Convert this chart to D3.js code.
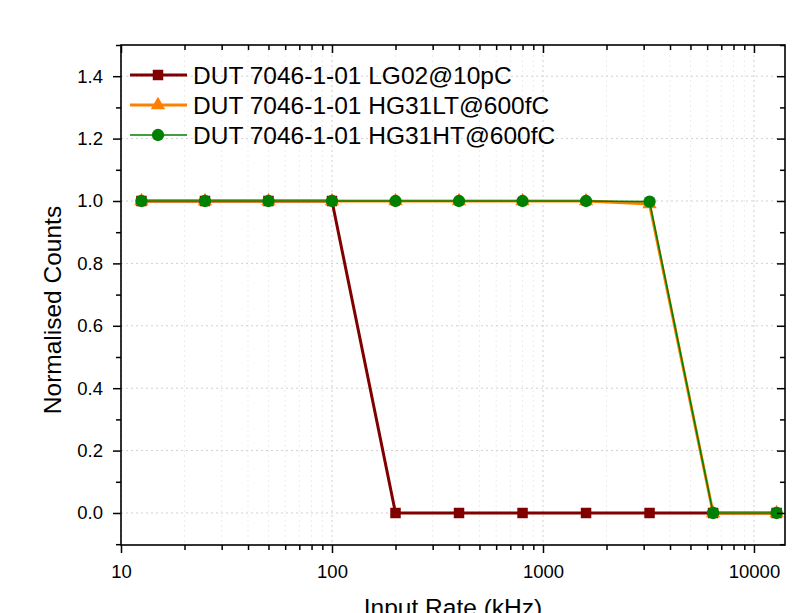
<!DOCTYPE html>
<html><head><meta charset="utf-8">
<script src="https://cdn.jsdelivr.net/npm/d3@7"></script>
<style>body{margin:0;background:#fff}svg{display:block}text{font-family:"Liberation Sans",Arial,sans-serif}</style>
</head><body>
<svg id="c" width="795" height="613"></svg>
<script>
const rates = [12.5, 25, 50, 100, 200, 400, 800, 1600, 3200, 6400, 12800];
const lg02 = [1, 1, 1, 1, 0, 0, 0, 0, 0, 0, 0];
const hg31lt = [1, 1, 1, 1, 1, 1, 1, 1, 0.99, 0, 0];
const hg31ht = [1, 1, 1, 1, 1, 1, 1, 1, 0.998, 0, 0];
const seriesNames = ["DUT 7046-1-01 LG02@10pC", "DUT 7046-1-01 HG31LT@600fC", "DUT 7046-1-01 HG31HT@600fC"];
const xTickLabels = ["10", "100", "1000", "10000"];
const yTickLabels = ["0.0", "0.2", "0.4", "0.6", "0.8", "1.0", "1.2", "1.4"];

const svg = d3.select("#c");
const L = 121, R = 785, T = 45, B = 545;
const x = d3.scaleLog().domain([10, 14030]).range([L, R]);
const y = d3.scaleLinear().domain([-0.1026, 1.5]).range([B, T]);

const xMajor = xTickLabels.map(Number);
const xMinor = [];
for (let d = 10; d <= 10000; d *= 10) for (let k = 2; k <= 9; k++) { const v = d * k; if (v <= 14030) xMinor.push(v); }
const yMajor = yTickLabels.map(Number);
const yMinor = d3.range(-0.1, 1.55, 0.2).map(v => +v.toFixed(1));

// grid
const g = svg.append("g");
g.selectAll(".gx").data(xMajor.concat(xMinor)).join("line")
  .attr("x1", d => x(d)).attr("x2", d => x(d)).attr("y1", T).attr("y2", B)
  .attr("stroke", d => xMajor.includes(d) ? "#d0d0d0" : "#ededed").attr("stroke-width", 1).attr("stroke-dasharray", "2,3");
g.selectAll(".gy").data(yMajor).join("line")
  .attr("x1", L).attr("x2", R).attr("y1", d => y(d)).attr("y2", d => y(d))
  .attr("stroke", "#d0d0d0").attr("stroke-width", 1).attr("stroke-dasharray", "2,3");

// series
const series = [
  {vals: lg02, color: "#800000", width: 3, sym: d3.symbolSquare, size: 110},
  {vals: hg31lt, color: "#ff8000", width: 3, sym: d3.symbolTriangle, size: 90},
  {vals: hg31ht, color: "#008000", width: 1.6, sym: d3.symbolCircle, size: 120}
];
const line = d3.line().x(d => x(d[0])).y(d => y(d[1]));
series.forEach(s => {
  const pts = rates.map((r, i) => [r, s.vals[i]]);
  svg.append("path").datum(pts).attr("d", line).attr("fill", "none")
    .attr("stroke", s.color).attr("stroke-width", s.width).attr("stroke-linejoin", "round");
  svg.append("g").selectAll("path").data(pts).join("path")
    .attr("transform", d => `translate(${x(d[0])},${y(d[1])})`)
    .attr("d", d3.symbol().type(s.sym).size(s.size)).attr("fill", s.color);
});

// axes
const ax = svg.append("g");
ax.append("g").attr("transform", `translate(0,${B})`)
  .call(d3.axisBottom(x).tickValues(xMajor).tickFormat((d, i) => xTickLabels[i]).tickSize(8).tickPadding(12));
ax.append("g").attr("transform", `translate(0,${B})`)
  .call(d3.axisBottom(x).tickValues(xMinor).tickFormat("").tickSize(5));
ax.append("g").attr("transform", `translate(0,${T})`)
  .call(d3.axisBottom(x).tickValues(xMajor).tickFormat("").tickSize(8));
ax.append("g").attr("transform", `translate(0,${T})`)
  .call(d3.axisBottom(x).tickValues(xMinor).tickFormat("").tickSize(5));
ax.append("g").attr("transform", `translate(${L},0)`)
  .call(d3.axisLeft(y).tickValues(yMajor).tickFormat((d, i) => yTickLabels[i]).tickSize(8).tickPadding(10));
ax.append("g").attr("transform", `translate(${L},0)`)
  .call(d3.axisLeft(y).tickValues(yMinor).tickFormat("").tickSize(5));
ax.append("g").attr("transform", `translate(${R},0)`)
  .call(d3.axisLeft(y).tickValues(yMajor).tickFormat("").tickSize(8));
ax.append("g").attr("transform", `translate(${R},0)`)
  .call(d3.axisLeft(y).tickValues(yMinor).tickFormat("").tickSize(5));
ax.selectAll(".domain").remove();
ax.selectAll("line").attr("stroke", "#000").attr("stroke-width", 1.5);
ax.selectAll("text").attr("font-size", 18.5).attr("fill", "#000").attr("font-family", "Liberation Sans, Arial, sans-serif");
svg.append("rect").attr("x", L).attr("y", T).attr("width", R - L).attr("height", B - T)
  .attr("fill", "none").attr("stroke", "#000").attr("stroke-width", 1.6);

// titles
svg.append("text").attr("x", 453).attr("y", 616).attr("text-anchor", "middle").attr("font-size", 24.5).text("Input Rate (kHz)");
svg.append("text").attr("transform", "translate(61,310) rotate(-90)").attr("text-anchor", "middle").attr("font-size", 24.5).text("Normalised Counts");

// legend
const lg = svg.append("g");
series.forEach((s, i) => {
  const yy = 75 + i * 30;
  lg.append("line").attr("x1", 130).attr("x2", 187).attr("y1", yy).attr("y2", yy).attr("stroke", s.color).attr("stroke-width", s.width);
  lg.append("path").attr("transform", `translate(158,${yy})`).attr("d", d3.symbol().type(s.sym).size(s.size)).attr("fill", s.color);
  lg.append("text").attr("x", 193).attr("y", yy + 8.5).attr("font-size", 24.5).text(seriesNames[i]);
});
</script>
</body></html>
